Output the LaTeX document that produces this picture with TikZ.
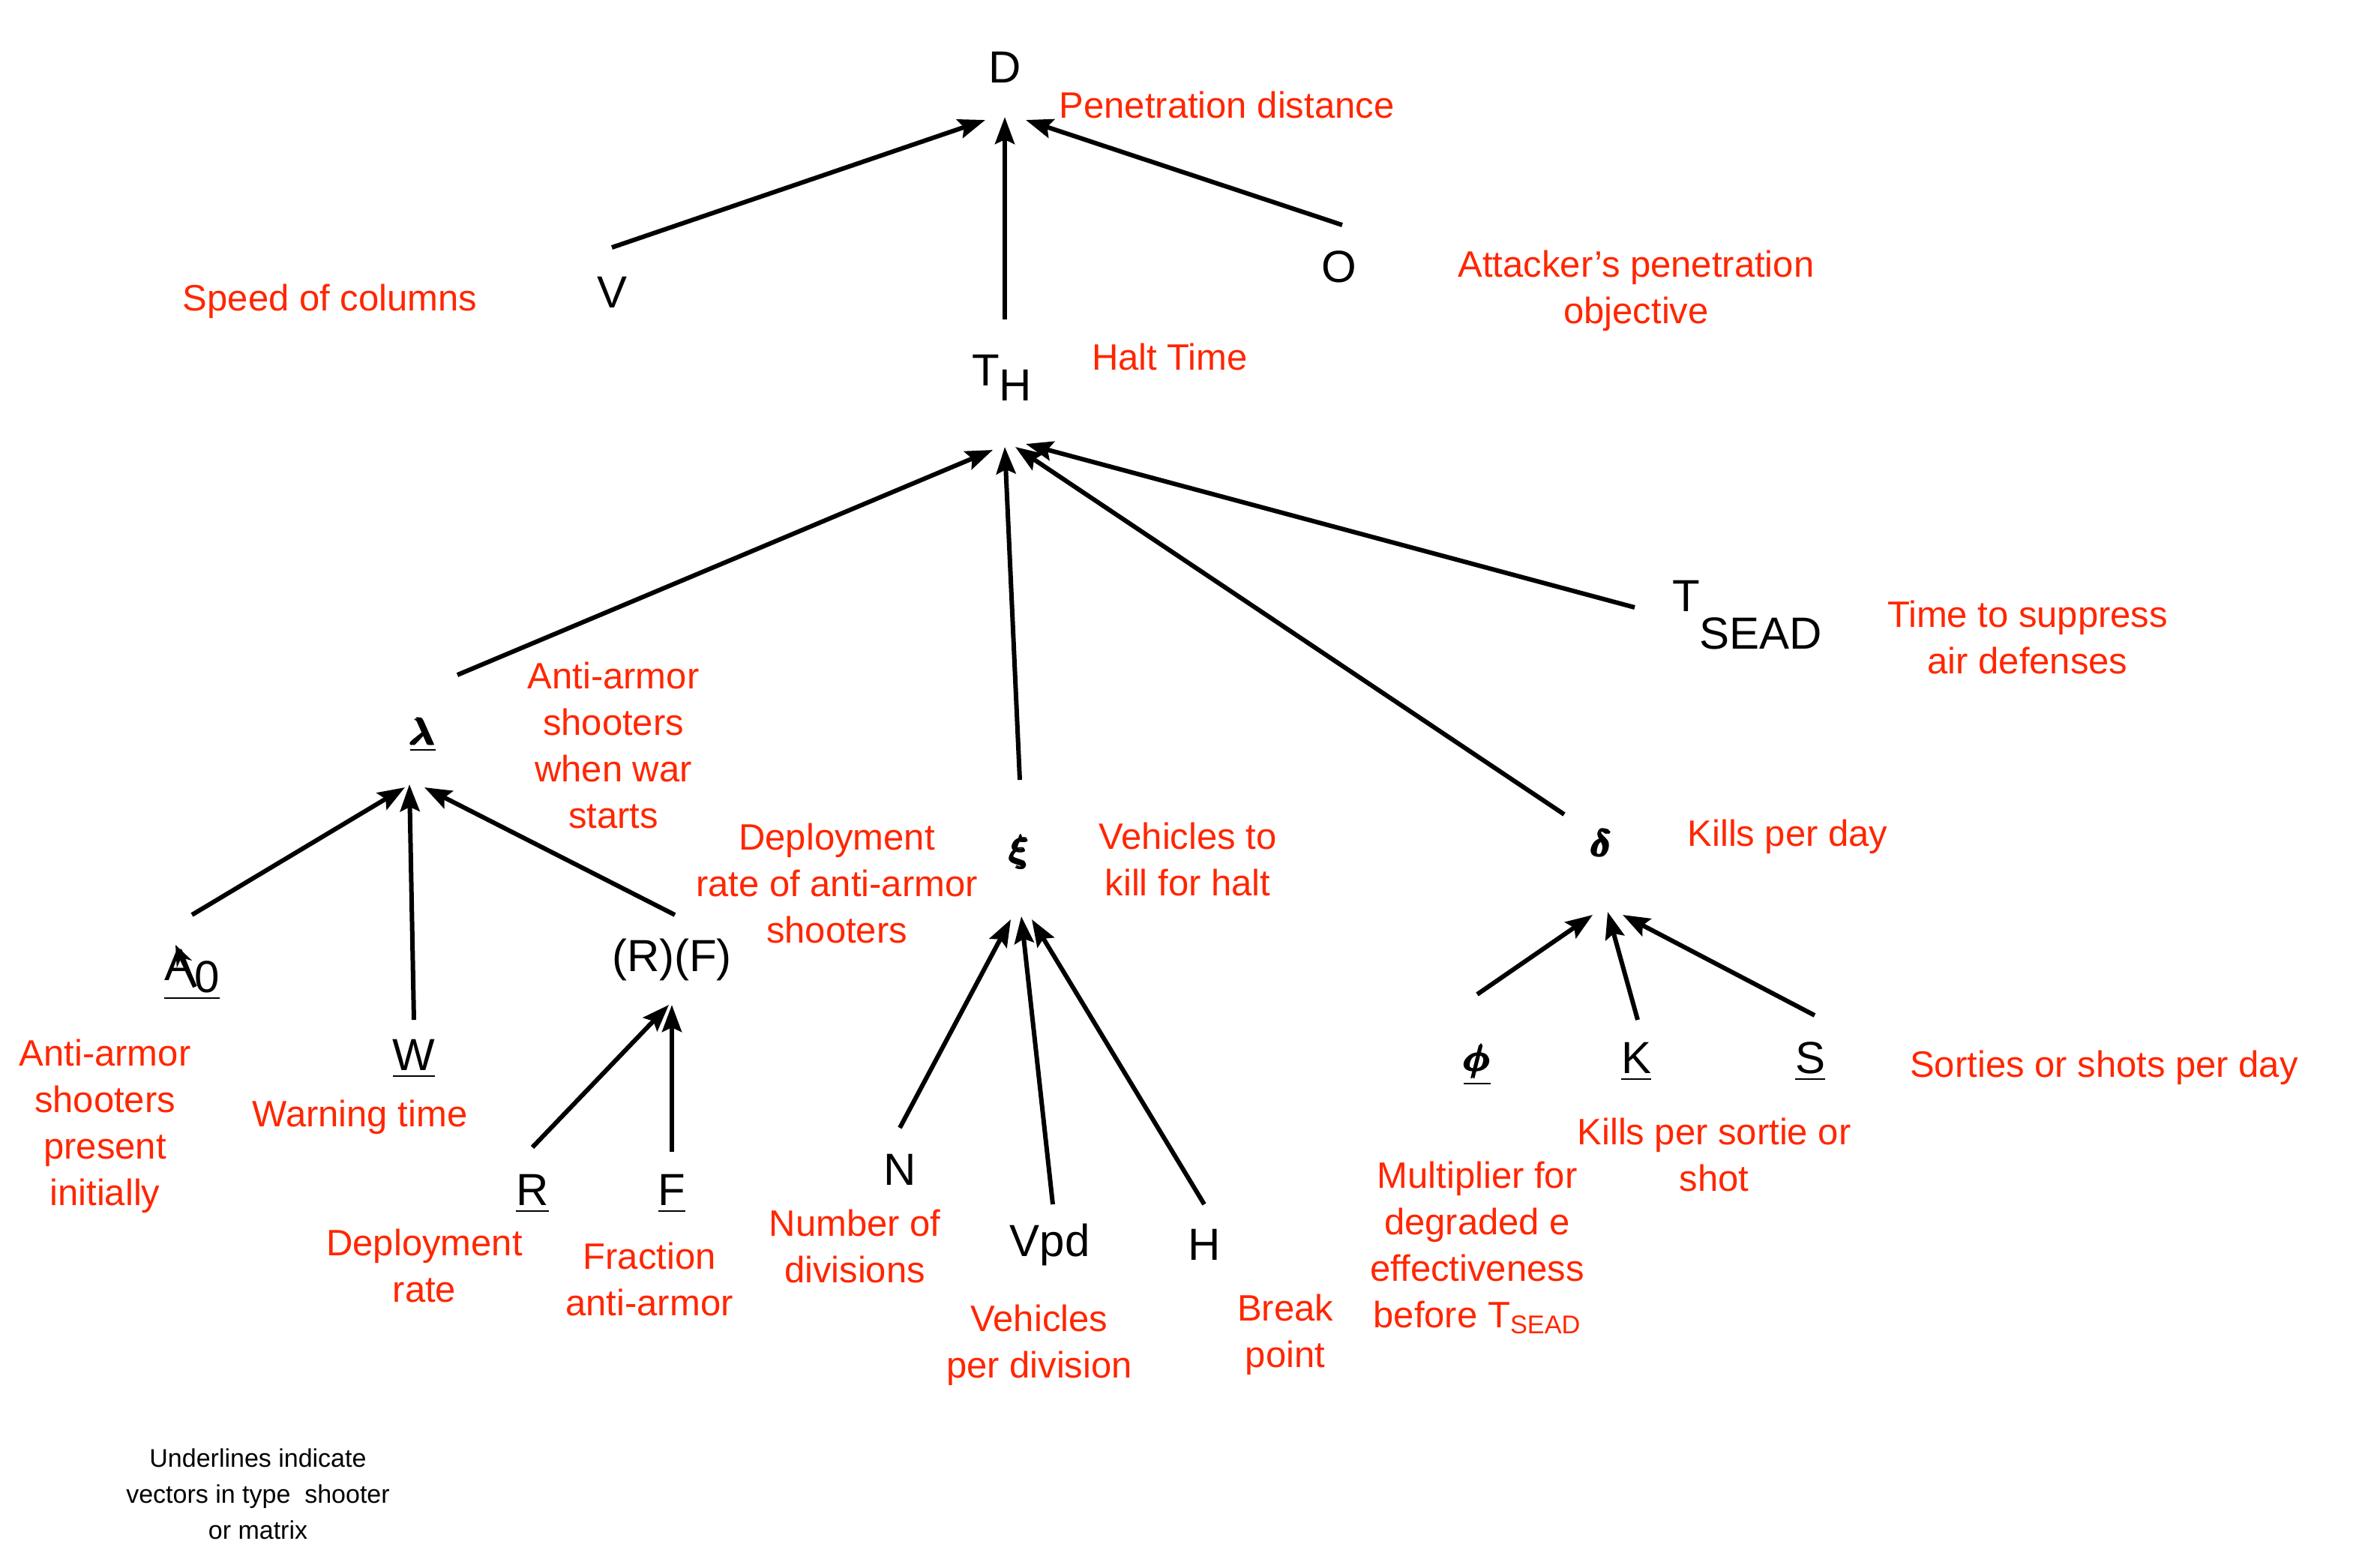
\documentclass[tikz,border=0pt]{standalone}
\usepackage{amsmath}
\usepackage{fontspec}
\setmainfont{Liberation Sans}
\usetikzlibrary{arrows.meta}
\definecolor{lab}{RGB}{255,38,0}
\begin{document}
\begin{tikzpicture}[x=1pt,y=-1pt,
 lbl/.style={text=lab,font=\fontsize{24.5}{31}\selectfont,align=center,inner sep=0},
 var/.style={font=\fontsize{30}{32}\selectfont,inner sep=0},
 grk/.style={font=\fontsize{40}{40}\selectfont\boldmath,inner sep=0},
 ar/.style={line width=3pt,-{Stealth[length=18pt,width=13pt,inset=3pt]}}]
\useasboundingbox (0,0) rectangle (1579,1045);
% variables
\node[var] (D) at (670,45) {D};
\node[var] (V) at (408,195) {V};
\node[var] (O) at (893,178) {O};
\node[var] (TH) at (668,252) {T\raisebox{-10pt}{H}};
\node[var] (TS) at (1165,410) {T\raisebox{-25pt}{SEAD}};
\node[grk] (lam) at (282,490) {\underline{$\pmb{\lambda}$}};
\node[grk] (xi) at (680,568) {$\pmb{\xi}$};
\node[grk] (del) at (1068,562) {$\pmb{\delta}$};
\node[var] (A0) at (128,650) {\underline{A\raisebox{-8pt}{0}}};
\node[var] (W) at (276,706) {\underline{W}};
\node[var] (RF) at (448,640) {(R)(F)};
\node[var] (R) at (355,796) {\underline{R}};
\node[var] (F) at (448,796) {\underline{F}};
\node[var] (N) at (600,780) {N};
\node[var] (Vpd) at (700,830) {Vpd};
\node[var] (H) at (803,830) {H};
\node[grk] (phi) at (985,710) {\underline{$\pmb{\phi}$}};
\node[var] (K) at (1091,708) {\underline{K}};
\node[var] (S) at (1207,708) {\underline{S}};
% labels
\node[lbl] (lD) at (818,70) {Penetration distance};
\node[lbl] (lV) at (220,201) {Speed of columns};
\node[lbl] (lO) at (1091,194) {Attacker’s penetration\\objective};
\node[lbl] (lTH) at (780,238) {Halt Time};
\node[lbl] (lTS) at (1352,425) {Time to suppress\\air defenses};
\node[lbl] (llam) at (409,497) {Anti-armor\\shooters\\when war\\starts};
\node[lbl] (ldep) at (558,589) {Deployment\\rate of anti-armor\\shooters};
\node[lbl] (lxi) at (792,573) {Vehicles to\\kill for halt};
\node[lbl] (ldel) at (1192,558) {Kills per day};
\node[lbl] (lA0) at (70,751) {Anti-armor\\shooters\\present\\initially};
\node[lbl] (lW) at (240,745) {Warning time};
\node[lbl] (lR) at (283,844) {Deployment\\rate};
\node[lbl] (lF) at (433,853) {Fraction\\anti-armor};
\node[lbl] (lN) at (570,831) {Number of\\divisions};
\node[lbl] (lVpd) at (693,897) {Vehicles\\per division};
\node[lbl] (lH) at (857,890) {Break\\point};
\node[lbl] (lphi) at (985,832) {Multiplier for\\degraded e\\effectiveness\\before T\textsubscript{SEAD}};
\node[lbl] (lK) at (1143,770) {Kills per sortie or\\shot};
\node[lbl] (lS) at (1403,712) {Sorties or shots per day};
\node[font=\fontsize{17}{24}\selectfont,align=center,inner sep=0] (note) at (172,996) {Underlines indicate\\vectors in type\ \ shooter\\or matrix};
% arrow end points
\coordinate (dV) at (657,80); \coordinate (dT) at (670,78); \coordinate (dO) at (684,80);
\coordinate (tl) at (662,300); \coordinate (tx) at (670,298); \coordinate (td) at (677,298); \coordinate (ts) at (684,296);
\coordinate (la) at (270,525); \coordinate (lw) at (273,523); \coordinate (lr) at (283,525);
\coordinate (xn) at (674,613); \coordinate (xv) at (681,611); \coordinate (xh) at (688,613);
\coordinate (dp) at (1062,610); \coordinate (dk) at (1072,608); \coordinate (ds) at (1082,610);
\coordinate (rf) at (446,670); \coordinate (rf2) at (448,670);
% arrow start points
\coordinate (sV) at (408,165); \coordinate (sT) at (670,213); \coordinate (sO) at (895,150);
\coordinate (sl) at (305,450); \coordinate (sx) at (680,520); \coordinate (sd) at (1043,543); \coordinate (ss) at (1090,405);
\coordinate (sa) at (128,610); \coordinate (sw) at (276,680); \coordinate (sr) at (450,610);
\coordinate (a0s) at (130,658); \coordinate (a0e) at (117,630);
\coordinate (sR) at (355,765); \coordinate (sF) at (448,768);
\coordinate (sN) at (600,752); \coordinate (sVpd) at (702,803); \coordinate (sH) at (803,803);
\coordinate (sp) at (985,663); \coordinate (sk) at (1092,680); \coordinate (sS) at (1210,677);
% connectors
\draw[ar] (sV) -- (dV);
\draw[ar] (sT) -- (dT);
\draw[ar] (sO) -- (dO);
\draw[ar] (sl) -- (tl);
\draw[ar] (sx) -- (tx);
\draw[ar] (sd) -- (td);
\draw[ar] (ss) -- (ts);
\draw[ar] (sa) -- (la);
\draw[ar] (sw) -- (lw);
\draw[ar] (sr) -- (lr);
\draw[line width=3pt,-{Stealth[length=14pt,width=11pt]}] (a0s) -- (a0e);
\draw[ar] (sR) -- (rf);
\draw[ar] (sF) -- (rf2);
\draw[ar] (sN) -- (xn);
\draw[ar] (sVpd) -- (xv);
\draw[ar] (sH) -- (xh);
\draw[ar] (sp) -- (dp);
\draw[ar] (sk) -- (dk);
\draw[ar] (sS) -- (ds);
\end{tikzpicture}
\end{document}
